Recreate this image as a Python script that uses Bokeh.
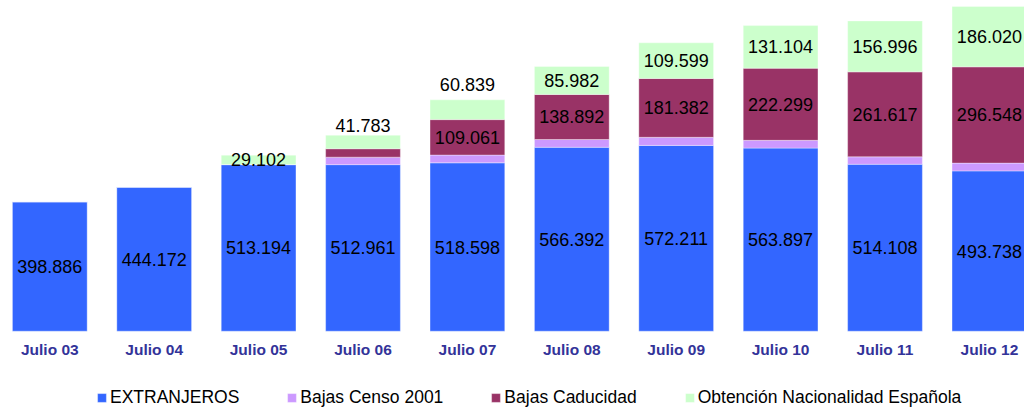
from bokeh.plotting import figure
from bokeh.models import Range1d, Legend, LegendItem, ColumnDataSource
from bokeh.core.properties import value
from bokeh.embed import file_html
from bokeh.resources import INLINE

categories = ["Julio 03", "Julio 04", "Julio 05", "Julio 06", "Julio 07",
              "Julio 08", "Julio 09", "Julio 10", "Julio 11", "Julio 12"]
extranjeros = [398886, 444172, 513194, 512961, 518598, 566392, 572211, 563897, 514108, 493738]
bajas_censo = [0, 0, 0, 23000, 24000, 24000, 25000, 24000, 23000, 24000]
bajas_caducidad = [0, 0, 0, 26000, 109061, 138892, 181382, 222299, 261617, 296548]
nacionalidad = [0, 0, 29102, 41783, 60839, 85982, 109599, 131104, 156996, 186020]
series_names = ["EXTRANJEROS", "Bajas Censo 2001", "Bajas Caducidad",
                "Obtención Nacionalidad Española"]
colors = ["#3366FF", "#CC99FF", "#993366", "#CCFFCC"]
green_label_dy = [0, 0, 0, -16, -25, 0, 0, 0, 0, 0]

FONT = "Liberation Sans"

def fmt(v):
    return f"{v:,}".replace(",", ".")

xs = list(range(len(categories)))
src = ColumnDataSource(dict(x=xs, ext=extranjeros, cen=bajas_censo,
                            cad=bajas_caducidad, nac=nacionalidad))

W, H = 1024, 409
p = figure(width=W, height=H, output_backend="svg", toolbar_location=None,
           x_range=Range1d(-0.4722, 9.3362), y_range=Range1d(-241164, 1018556),
           x_axis_location=None, y_axis_location=None,
           min_border_left=0, min_border_right=0,
           min_border_top=0, min_border_bottom=0)
p.outline_line_color = None
p.grid.visible = False
p.background_fill_color = "white"
p.border_fill_color = "white"

renderers = p.vbar_stack(["ext", "cen", "cad", "nac"], x="x", width=0.716,
                         fill_color=colors, line_color="white", line_alpha=0.35,
                         source=src)

# value labels
lx, ly, lt, ldy = [], [], [], []
for i in xs:
    b0 = extranjeros[i]
    lx.append(i); ly.append(b0 / 2); lt.append(fmt(b0)); ldy.append(0)
    base2 = b0 + bajas_censo[i]
    if bajas_caducidad[i] > 50000:
        lx.append(i); ly.append(base2 + bajas_caducidad[i] / 2)
        lt.append(fmt(bajas_caducidad[i])); ldy.append(0)
    base3 = base2 + bajas_caducidad[i]
    if nacionalidad[i] > 0:
        lx.append(i); ly.append(base3 + nacionalidad[i] / 2)
        lt.append(fmt(nacionalidad[i])); ldy.append(green_label_dy[i])
lsrc = ColumnDataSource(dict(x=lx, y=ly, t=lt, dy=ldy))
p.text(x="x", y="y", text="t", y_offset="dy", source=lsrc,
       text_align="center", text_baseline="middle",
       text_font=value(FONT), text_font_size="18px", text_color="black")

# category labels under the bars
csrc = ColumnDataSource(dict(x=xs, y=[0] * len(xs), t=categories))
p.text(x="x", y="y", text="t", y_offset=18, source=csrc,
       text_align="center", text_baseline="middle",
       text_font=value(FONT), text_font_style="bold",
       text_font_size="15.5px", text_color="#333399")

items = [LegendItem(label=n, renderers=[r]) for n, r in zip(series_names, renderers)]
legend = Legend(items=items, orientation="horizontal", location=(96, 1),
                glyph_width=11, glyph_height=11, label_standoff=3, spacing=47,
                padding=0, margin=0, border_line_color=None,
                background_fill_alpha=0, label_text_font=FONT,
                label_text_font_size="17.5px", label_text_color="black")
p.add_layout(legend, "center")

open("out.html", "w").write(file_html(p, INLINE))
